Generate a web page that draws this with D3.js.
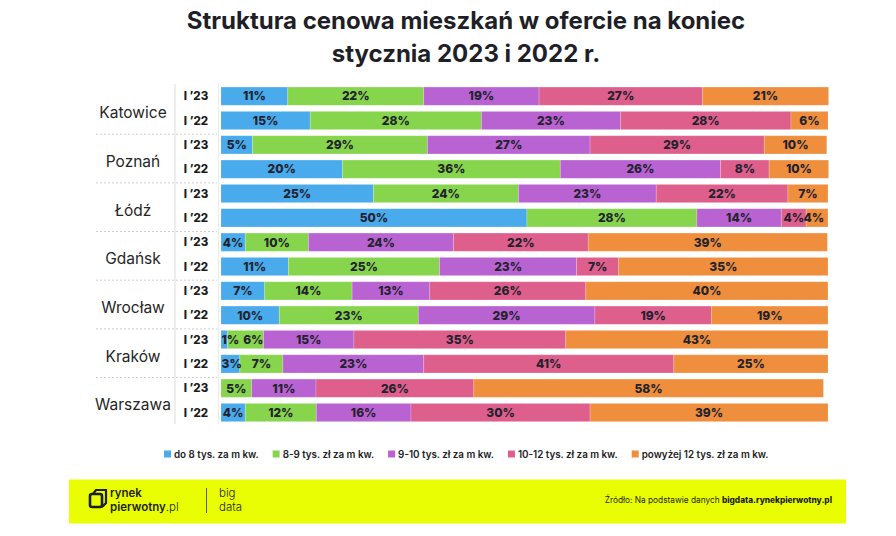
<!DOCTYPE html>
<html><head><meta charset="utf-8">
<script src="https://cdn.jsdelivr.net/npm/d3@7/dist/d3.min.js"></script>
<style>
html,body{margin:0;padding:0;background:#fff;}
svg{display:block;font-family:Inter,"Noto Sans",sans-serif;}
</style></head>
<body>
<svg id="chart" width="896" height="536"></svg>
<script>
const titleLines = ["Struktura cenowa mieszkań w ofercie na koniec", "stycznia 2023 i 2022 r."];
const cities = ["Katowice","Poznań","Łódź","Gdańsk","Wrocław","Kraków","Warszawa"];
const periods = ["I ’23","I ’22"];
const seriesNames = ["do 8 tys. za m kw.","8-9 tys. zł za m kw.","9-10 tys. zł za m kw.","10-12 tys. zł za m kw.","powyżej 12 tys. zł za m kw."];
const seriesColors = ["#49aaec","#87d54c","#b962d1","#df5f8c","#ef8f3d"];
// values in row order: for each city, I'23 then I'22
const s_do8    = [11,14.7, 5.2,20, 25.1,50.4, 4,11.1, 7.2,9.6, 1.1,3.1, 0,4];
const s_8_9    = [22.4,28.2, 28.8,35.9, 23.9,28, 10.4,24.9, 14.4,22.9, 5.9,7.1, 5.05,11.7];
const s_9_10   = [19,22.9, 26.8,26.4, 22.7,13.9, 23.9,22.6, 12.8,29.1, 14.9,23.2, 10.6,15.6];
const s_10_12  = [26.9,28.1, 28.7,8, 21.7,4.1, 22.2,6.9, 25.7,19.2, 34.9,41.2, 26,29.5];
const s_12plus = [20.8,6.1, 10.3,9.8, 6.6,3.6, 39.4,34.5, 39.9,19.2, 43.2,25.4, 57.6,39.2];
const sourceText = "Źródło: Na podstawie danych ";
const sourceBold = "bigdata.rynekpierwotny.pl";

const allSeries = [s_do8, s_8_9, s_9_10, s_10_12, s_12plus];
const rows = [];
cities.forEach((c, ci) => periods.forEach((p, pi) => {
  const idx = ci * 2 + pi;
  const row = {key: c + "|" + p, city: c, period: p};
  seriesNames.forEach((s, si) => row[s] = allSeries[si][idx]);
  rows.push(row);
}));

const svg = d3.select("#chart");
const x = d3.scaleLinear().domain([0, 100]).range([221, 828]);
const y = d3.scaleBand().domain(rows.map(r => r.key)).range([84, 424.7]).paddingInner(0.25).paddingOuter(0.125);
const stack = d3.stack().keys(seriesNames)(rows);
const darkText = "#22222e";

// title
svg.append("g").selectAll("text").data(titleLines).join("text")
  .attr("x", 466).attr("y", (d, i) => 29 + i * 33)
  .attr("text-anchor", "middle").attr("font-size", 24).attr("font-weight", 700)
  .attr("fill", "#1f1f28").text(d => d);

// separators
svg.append("line").attr("x1", 175).attr("x2", 175).attr("y1", 84).attr("y2", 424)
  .attr("stroke", "#e2e2e2").attr("stroke-width", 1.2);
svg.append("line").attr("x1", 218.5).attr("x2", 218.5).attr("y1", 84).attr("y2", 424)
  .attr("stroke", "#ececec").attr("stroke-width", 1);
const sepY = cities.slice(1).map((c, i) => (y(cities[i] + "|" + periods[1]) + y.bandwidth() + y(c + "|" + periods[0])) / 2);
svg.append("g").selectAll("line").data(sepY).join("line")
  .attr("x1", 96).attr("x2", 217).attr("y1", d => d + 1.5).attr("y2", d => d + 1.5)
  .attr("stroke", "#cfcfcf").attr("stroke-width", 1).attr("stroke-dasharray", "2,2");

// city labels
svg.append("g").selectAll("text").data(cities).join("text")
  .attr("x", 133)
  .attr("y", c => (y(c + "|" + periods[0]) + y(c + "|" + periods[1]) + y.bandwidth()) / 2 + 10)
  .attr("text-anchor", "middle").attr("font-size", 15.5).attr("fill", "#262626")
  .text(c => c);

// period labels
svg.append("g").selectAll("text").data(rows).join("text")
  .attr("x", 196).attr("y", r => y(r.key) + y.bandwidth() / 2)
  .attr("dy", "0.36em").attr("text-anchor", "middle")
  .attr("font-size", 11.5).attr("font-weight", 800).attr("fill", "#1c1c1c")
  .text(r => r.period);

// bars
const layers = svg.append("g").selectAll("g").data(stack).join("g")
  .attr("fill", (d, i) => seriesColors[i]);
layers.selectAll("rect").data(d => d.filter(p => p[1] - p[0] > 0)).join("rect")
  .attr("x", d => x(d[0])).attr("width", d => x(d[1]) - x(d[0]))
  .attr("y", d => y(d.data.key)).attr("height", y.bandwidth())
  .attr("stroke", "#ffffff").attr("stroke-opacity", 0.25).attr("stroke-width", 0.8);

// labels
const labG = svg.append("g");
rows.forEach((r, ri) => {
  let prevRight = -Infinity;
  stack.forEach(layer => {
    const p = layer[ri];
    const v = p[1] - p[0];
    if (v <= 0) return;
    const t = labG.append("text")
      .attr("y", y(r.key) + y.bandwidth() / 2).attr("dy", "0.36em")
      .attr("text-anchor", "middle").attr("font-size", 12).attr("font-weight", 800)
      .attr("fill", darkText).text(Math.round(v) + "%");
    const w = t.node().getComputedTextLength();
    let cx = (x(p[0]) + x(p[1])) / 2;
    cx = Math.max(cx, x(0) + w / 2 + 0.5);
    cx = Math.min(cx, x(100) - w / 2 - 4);
    if (cx - w / 2 < prevRight + 4 && prevRight + 4 + w <= x(100) - 4) cx = prevRight + 4 + w / 2;
    t.attr("x", cx);
    prevRight = cx + w / 2;
  });
});

// legend
const leg = svg.append("g");
let lx = 164;
seriesNames.forEach((s, i) => {
  leg.append("rect").attr("x", lx).attr("y", 450.5).attr("width", 7).attr("height", 7).attr("fill", seriesColors[i]);
  const t = leg.append("text").attr("x", lx + 10).attr("y", 457.5)
    .attr("font-size", 9.8).attr("font-weight", 600).attr("fill", "#222").text(s);
  lx += 10 + t.node().getComputedTextLength() + 14;
});

// footer
svg.append("rect").attr("x", 69).attr("y", 479.5).attr("width", 777).attr("height", 44).attr("fill", "#e9fe02");
const logo = svg.append("g");
logo.append("rect").attr("x", 90).attr("y", 494).attr("width", 12).attr("height", 13).attr("rx", 2)
  .attr("fill", "none").attr("stroke", "#1e1e1e").attr("stroke-width", 2.6);
logo.append("path").attr("d", "M93,494 L96,490 L106,490 L106,503 L102,507").attr("fill", "none").attr("stroke", "#1e1e1e").attr("stroke-width", 2.2);
logo.append("text").attr("x", 110).attr("y", 497).attr("font-size", 11.5).attr("font-weight", 600).attr("fill", "#1e1e1e").text("rynek");
const pl = logo.append("text").attr("x", 110).attr("y", 511).attr("font-size", 11.5).attr("fill", "#1e1e1e");
pl.append("tspan").attr("font-weight", 600).text("pierwotny");
pl.append("tspan").attr("font-weight", 300).text(".pl");
logo.append("line").attr("x1", 206.5).attr("x2", 206.5).attr("y1", 488).attr("y2", 513).attr("stroke", "#333").attr("stroke-width", 0.8);
logo.append("text").attr("x", 219).attr("y", 497).attr("font-size", 11.5).attr("font-weight", 300).attr("fill", "#1e1e1e").text("big");
logo.append("text").attr("x", 219).attr("y", 511).attr("font-size", 11.5).attr("font-weight", 300).attr("fill", "#1e1e1e").text("data");

const src = svg.append("text").attr("x", 832).attr("y", 503).attr("text-anchor", "end")
  .attr("font-size", 8.3).attr("fill", "#1e1e1e");
src.append("tspan").text(sourceText);
src.append("tspan").attr("font-weight", 800).text(sourceBold);
</script>
</body></html>
